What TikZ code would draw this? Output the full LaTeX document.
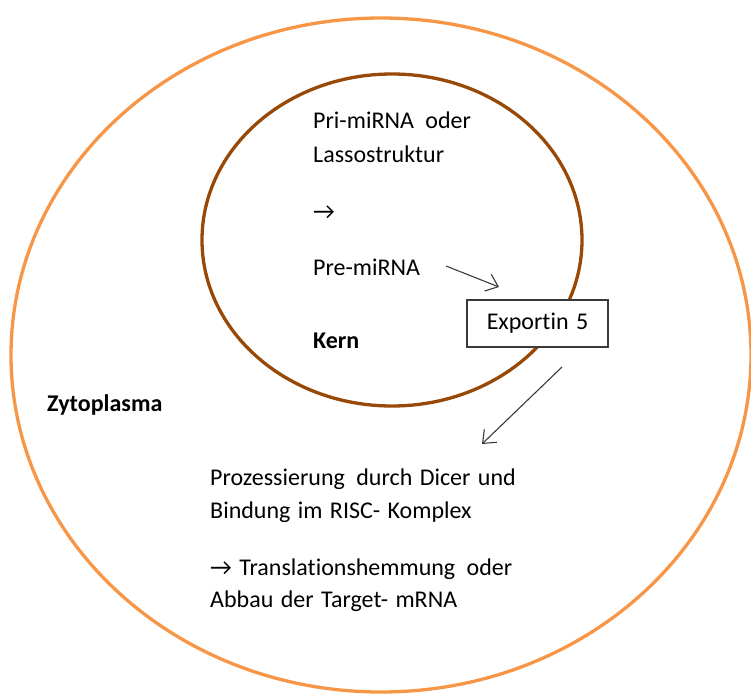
\documentclass[tikz,border=0pt]{standalone}
\usepackage{fontspec}
\setmainfont[Ligatures={NoCommon}]{Carlito}
\usetikzlibrary{arrows.meta}
\definecolor{outerorange}{HTML}{F79646}
\definecolor{kernbrown}{HTML}{984807}
\definecolor{linegray}{HTML}{3A3A3A}
\newcommand{\myfont}{\fontsize{24}{35}\selectfont\spaceskip=0.31em plus 0.1em\relax}
\newcommand{\wsp}{\hspace{4pt}}
\tikzset{
  txt/.style={anchor=base west, inner sep=0pt, font=\myfont, text=black},
  boldtxt/.style={txt, font=\myfont\bfseries},
  conn/.style={draw=linegray, line width=1.1pt, -{Straight Barb[length=11pt,width=18pt,line width=1.1pt]}},
}
\begin{document}
\begin{tikzpicture}[x=1pt,y=-1pt]
\useasboundingbox (0,0) rectangle (751,693);
\begin{scope}
\clip (0,0) rectangle (751,693);
\draw[outerorange, line width=3.3pt] (381,355) ellipse [x radius=370, y radius=337];
\end{scope}
\draw[kernbrown, line width=3.3pt] (392,240) ellipse [x radius=190, y radius=166];

\node[txt] (pri) at (313,128) {Pri-miRNA\ \wsp oder};
\node[txt] (lasso) at (313,162) {Lassostruktur};
\node[txt] (arr1) at (313,219) {→};
\node[txt] (pre) at (313,275) {Pre-miRNA};
\node[boldtxt] (kern) at (313,348) {Kern};
\node[boldtxt] (zyto) at (47,411) {Zytoplasma};

\node[draw=linegray, line width=1.3pt, fill=white, minimum width=141pt, minimum height=47pt, inner sep=0pt,
      font=\myfont] (exp) at (537.5,323.5) {Exportin 5};

\node[txt] (proz) at (210,485) {Prozessierung\wsp{} durch Dicer und};
\node[txt] (bind) at (210,518) {Bindung im RISC- Komplex};
\node[txt] (trans) at (210,575) {→ Translationshemmung\wsp{} oder};
\node[txt] (abbau) at (210,607) {Abbau der Target- mRNA};

\coordinate (a1s) at (446,266);
\coordinate (a1e) at (499,287);
\coordinate (a2s) at (562,367);
\coordinate (a2e) at (482,444);
\draw[conn] (a1s) -- (a1e);
\draw[conn] (a2s) -- (a2e);
\end{tikzpicture}
\end{document}
